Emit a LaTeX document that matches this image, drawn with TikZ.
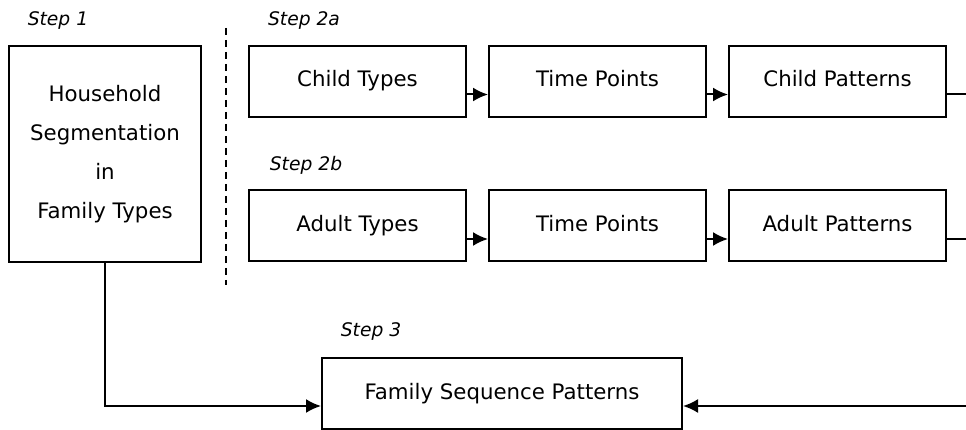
\documentclass[tikz,border=0pt]{standalone}
\usepackage{fontspec}
\setmainfont{DejaVu Sans}
\usetikzlibrary{arrows.meta}

\begin{document}
\begin{tikzpicture}[x=1pt,y=-1pt]
                \useasboundingbox (0,0) rectangle (966,430);
                \tikzstyle{box}=[rectangle, draw, line width=2pt, minimum width=217pt, minimum height=71pt, text height=15.5pt, text depth=4.5pt, text centered, font=\fontsize{21.3}{25}\selectfont]
                \tikzstyle{steplabel}=[font=\fontsize{18.7}{22}\selectfont\itshape]
                \node[steplabel] (S1) at (58,21) {Step 1};
                \node[steplabel] (S2a) at (304,21) {Step 2a};
                \node[steplabel] (S2b) at (306,165) {Step 2b};
                \node[steplabel] (S3) at (371,332) {Step 3};

                \node[box, minimum width=192pt, minimum height=216pt, text height=, text depth=, align=center, font=\fontsize{21.3}{39}\selectfont] (HH) at (105,154) {Household\\Segmentation\\in\\Family Types};
                \node[box] (CT) at (357.5,81.5) {Child Types};
                \node[box] (TP1) at (597.5,81.5) {Time Points};
                \node[box] (CP) at (837.5,81.5) {Child Patterns};
                \node[box] (AT) at (357.5,226) {Adult Types};
                \node[box] (TP2) at (597.5,226) {Time Points};
                \node[box] (AP) at (837.5,226) {Adult Patterns};
                \node[box, minimum width=360pt] (FSP) at (502,393.5) {Family Sequence Patterns};

                \coordinate (D1) at (226,28);
                \coordinate (D2) at (226,285);
                \coordinate (R1) at (966,94.5);
                \coordinate (R2) at (966,239);
                \coordinate (R3) at (966,406);

                \tikzstyle{bind}=[-{Latex[length=15pt,width=14pt]},line width=2pt]

                \draw[line width=1.5pt, dash pattern=on 7pt off 5pt] (D1) -- (D2);
                \draw[bind] ([yshift=-13pt]CT.east) -- ([yshift=-13pt]TP1.west);
                \draw[bind] ([yshift=-13pt]TP1.east) -- ([yshift=-13pt]CP.west);
                \draw[bind] ([yshift=-13pt]AT.east) -- ([yshift=-13pt]TP2.west);
                \draw[bind] ([yshift=-13pt]TP2.east) -- ([yshift=-13pt]AP.west);
                \draw[line width=2pt] ([yshift=-13pt]CP.east) -- (R1);
                \draw[line width=2pt] ([yshift=-13pt]AP.east) -- (R2);
                \draw[bind] (HH.south) |- ([yshift=-12.5pt]FSP.west);
                \draw[bind] (R3) -- ([yshift=-12.5pt]FSP.east);
            \end{tikzpicture}
\end{document}
